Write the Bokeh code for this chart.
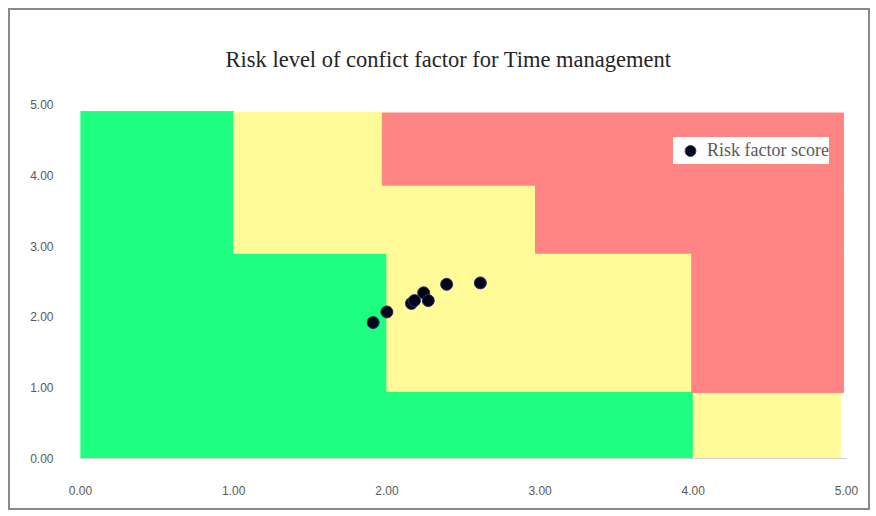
from bokeh.plotting import figure
from bokeh.models import FixedTicker, PrintfTickFormatter, ColumnDataSource
from bokeh.embed import file_html
from bokeh.resources import INLINE

# ---- data ----
title_text = "Risk level of confict factor for Time management"
legend_text = "Risk factor score"

score_x = [1.91, 2.00, 2.16, 2.18, 2.24, 2.27, 2.39, 2.61]
score_y = [1.92, 2.07, 2.19, 2.23, 2.34, 2.23, 2.46, 2.48]

# risk zones (left, right, bottom, top, colour)
zone_left   = [0.00, 1.00, 2.00, 1.00, 2.00, 3.00, 4.00, 1.97, 2.97, 3.99]
zone_right  = [1.00, 2.00, 4.00, 2.00, 3.00, 4.00, 4.96, 4.98, 4.98, 4.98]
zone_bottom = [0.00, 0.00, 0.00, 2.90, 0.95, 0.95, 0.00, 3.86, 2.90, 0.93]
zone_top    = [4.90, 2.90, 0.95, 4.89, 3.86, 2.90, 0.93, 4.88, 3.86, 2.90]
zone_color  = ["#1eff82", "#1eff82", "#1eff82",
               "#fffb98", "#fffb98", "#fffb98", "#fffb98",
               "#ff8584", "#ff8584", "#ff8584"]

x_ticks = [0, 1, 2, 3, 4, 5]
y_ticks = [0, 1, 2, 3, 4, 5]

p = figure(width=862, height=502, output_backend="svg", toolbar_location=None,
           x_range=(0, 5), y_range=(0, 5),
           min_border_left=70, min_border_right=26, min_border_top=94, min_border_bottom=54)
p.styles = {"border": "2px solid #8a8a8a", "margin-left": "8px", "margin-top": "8px"}

zones = ColumnDataSource(dict(left=zone_left, right=zone_right, bottom=zone_bottom,
                              top=zone_top, color=zone_color))
p.quad(left="left", right="right", bottom="bottom", top="top", fill_color="color",
       line_color="color", line_width=1, source=zones)

p.scatter(score_x, score_y, size=12, fill_color="#04041a", line_color="#22325e",
          line_width=1, legend_label=legend_text)

p.title.text = title_text
p.title.text_font = "Liberation Serif"
p.title.text_font_size = "22.5px"
p.title.text_font_style = "normal"
p.title.text_color = "#262626"
p.title.align = "left"
p.title.offset = 145
p.title.standoff = 66

p.grid.visible = False
p.outline_line_color = None
p.background_fill_color = "white"
p.border_fill_color = "white"

for ax in (p.xaxis[0], p.yaxis[0]):
    ax.major_tick_line_color = None
    ax.minor_tick_line_color = None
    ax.major_tick_out = 0
    ax.major_tick_in = 0
    ax.major_label_text_font = "Liberation Sans"
    ax.major_label_text_font_size = "12px"
    ax.major_label_text_color = "#595959"
    ax.formatter = PrintfTickFormatter(format="%.2f")

p.xaxis[0].ticker = FixedTicker(ticks=x_ticks)
p.yaxis[0].ticker = FixedTicker(ticks=y_ticks)
p.xaxis[0].axis_line_color = "#d0d0d0"
p.yaxis[0].axis_line_color = None
p.xaxis[0].major_label_standoff = 27
p.yaxis[0].major_label_standoff = 27

leg = p.legend[0]
leg.location = (593, 294)
leg.margin = 0
leg.padding = 0
leg.glyph_width = 34
leg.glyph_height = 27
leg.label_height = 27
leg.label_standoff = 0
leg.border_line_color = None
leg.background_fill_color = "white"
leg.background_fill_alpha = 1.0
leg.label_text_font = "Liberation Serif"
leg.label_text_font_size = "18px"
leg.label_text_color = "#595959"

open("out.html", "w").write(file_html(p, INLINE))
